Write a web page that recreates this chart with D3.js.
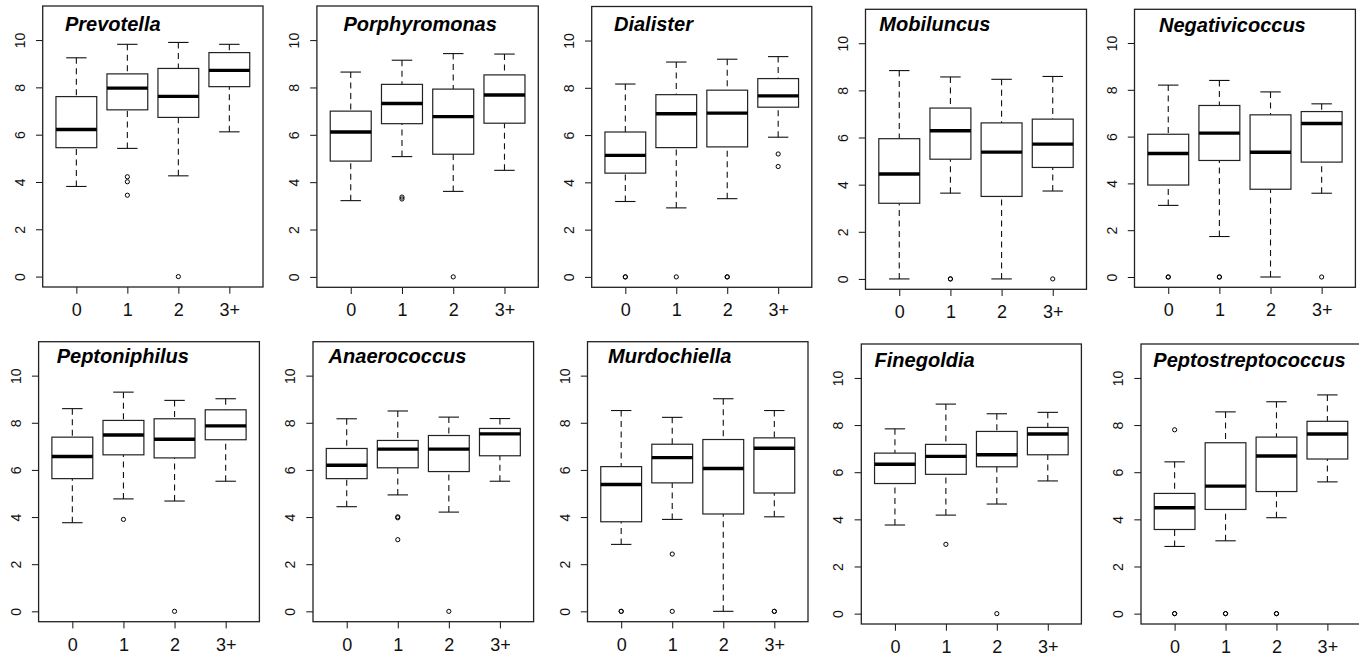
<!DOCTYPE html>
<html>
<head>
<meta charset="utf-8">
<script src="https://cdn.jsdelivr.net/npm/d3@7"></script>
<style>
  body { margin: 0; background: #fff; }
  svg { display: block; font-family: "Liberation Sans", Arial, sans-serif; }
  .title { font-weight: bold; font-style: italic; font-size: 20px; }
</style>
</head>
<body>
<div id="container"><svg></svg></div>
<script>
// genera, one panel each
let genera = ['Prevotella', 'Porphyromonas', 'Dialister', 'Mobiluncus', 'Negativicoccus',
              'Peptoniphilus', 'Anaerococcus', 'Murdochiella', 'Finegoldia', 'Peptostreptococcus'];
let groups = ['0', '1', '2', '3+'];
let yTicks = [0, 2, 4, 6, 8, 10];

// box stats per genus, per group (0, 1, 2, 3+)
let lowerWhisker = [
    [3.81, 5.42, 4.26, 6.12],
    [3.22, 5.08, 3.61, 4.50],
    [3.19, 2.92, 3.31, 5.91],
    [0.00, 3.64, 0.00, 3.73],
    [3.06, 1.73, 0.00, 3.58],
    [3.76, 4.77, 4.68, 5.52],
    [4.44, 4.94, 4.21, 5.52],
    [2.84, 3.90, 0.00, 4.01],
    [3.76, 4.18, 4.65, 5.63],
    [2.85, 3.09, 4.07, 5.59]
];
let q1 = [
    [5.45, 7.05, 6.73, 8.03],
    [4.89, 6.47, 5.18, 6.49],
    [4.39, 5.47, 5.50, 7.18],
    [3.21, 5.08, 3.50, 4.73],
    [3.93, 4.98, 3.75, 4.91],
    [5.63, 6.64, 6.51, 7.28],
    [5.63, 6.09, 5.93, 6.60],
    [3.80, 5.45, 4.13, 5.02],
    [5.52, 5.91, 6.23, 6.74],
    [3.57, 4.42, 5.18, 6.56]
];
let medians = [
    [6.22, 7.97, 7.62, 8.72],
    [6.12, 7.32, 6.77, 7.68],
    [5.14, 6.90, 6.93, 7.66],
    [4.45, 6.29, 5.38, 5.72],
    [5.28, 6.15, 5.33, 6.56],
    [6.57, 7.48, 7.30, 7.87],
    [6.20, 6.88, 6.88, 7.53],
    [5.38, 6.52, 6.06, 6.92],
    [6.34, 6.67, 6.74, 7.62],
    [4.49, 5.41, 6.69, 7.62]
];
let q3 = [
    [7.61, 8.57, 8.80, 9.47],
    [7.00, 8.13, 7.93, 8.53],
    [6.13, 7.71, 7.90, 8.39],
    [5.95, 7.25, 6.62, 6.78],
    [6.10, 7.33, 6.93, 7.07],
    [7.39, 8.10, 8.17, 8.55],
    [6.91, 7.25, 7.46, 7.76],
    [6.14, 7.09, 7.29, 7.36],
    [6.81, 7.18, 7.73, 7.90],
    [5.10, 7.25, 7.49, 8.16]
];
let upperWhisker = [
    [9.25, 9.82, 9.90, 9.82],
    [8.65, 9.15, 9.43, 9.41],
    [8.16, 9.09, 9.21, 9.32],
    [8.84, 8.57, 8.47, 8.59],
    [8.20, 8.40, 7.91, 7.40],
    [8.60, 9.30, 8.95, 9.02],
    [8.17, 8.50, 8.24, 8.18],
    [8.52, 8.23, 9.02, 8.52],
    [7.84, 8.89, 8.48, 8.54],
    [6.44, 8.56, 8.99, 9.28]
];
let outliers = [
    [[], [4.22, 4.01, 3.44], [0], []],
    [[], [3.37, 3.29], [0], []],
    [[0, 0], [0], [0, 0], [5.20, 4.67]],
    [[], [0, 0], [], [0]],
    [[0, 0], [0, 0], [], [0]],
    [[], [3.90], [0], []],
    [[], [4.01, 3.97, 3.04], [0], []],
    [[0, 0], [2.43, 0], [], [0, 0]],
    [[], [2.94], [0], []],
    [[7.80, 0, 0], [0, 0], [0, 0], []]
];

// panel frames [left, top, right, bottom] and title offsets
let frames = [
    [42.7, 6, 263, 287], [316.9, 6, 538.3, 287.3], [591.7, 6.5, 811.8, 287.3],
    [865.5, 9.3, 1086.5, 289.3], [1134.5, 9.3, 1355.4, 287.3],
    [38.6, 341.7, 259.4, 621.7], [313, 341.7, 533.6, 621.7], [587.5, 341.7, 808, 621.7],
    [861.3, 344, 1081.4, 624], [1141, 344, 1361, 624]
];
let titleDx = [22.3, 26.6, 22.3, 13.8, 24.5, 18.1, 15.6, 20.6, 13.3, 12.3];
let titleDy = [25, 25, 24.5, 21.7, 22.3, 21.7, 21.7, 21.7, 22.7, 22.7];

let width = 1359, height = 657;
let svg = d3.select('#container').select('svg')
    .attr('width', width)
    .attr('height', height);

function draw_panel(k) {
    let [L, T, R, B] = frames[k];
    let x = d3.scaleLinear().domain([0.34, 4.66]).range([L, R]);
    let y = d3.scaleLinear().domain([-0.44, 11.44]).range([B, T]);
    let g = svg.append('g');
    let bw = x(1.4) - x(1);   // half box width (boxwex 0.8)
    let sw = x(1.2) - x(1);   // half staple width

    // y axis
    let axis_y = d3.axisLeft(y).tickValues(yTicks).tickSize(6.7).tickSizeOuter(0).tickFormat(d => d);
    let ay = g.append('g')
        .attr('transform', `translate(${L}, 0)`)
        .call(axis_y);
    ay.select('.domain').remove();
    ay.selectAll('line').attr('stroke', '#111');
    ay.selectAll('text')
        .attr('x', 0).attr('dy', '0.36em')
        .attr('transform', 'translate(-23, 0) rotate(-90)')
        .attr('text-anchor', 'middle')
        .attr('fill', '#111')
        .style('font-size', '14px');

    // x axis
    let axis_x = d3.axisBottom(x).tickValues([1, 2, 3, 4]).tickSize(6.7).tickSizeOuter(0)
        .tickFormat((d, i) => groups[i]);
    let ax = g.append('g')
        .attr('transform', `translate(0, ${B})`)
        .call(axis_x);
    ax.select('.domain').remove();
    ax.selectAll('line').attr('stroke', '#111');
    ax.selectAll('text')
        .attr('y', 22.5).attr('dy', '0.36em')
        .attr('fill', '#111')
        .style('font-size', '18px');

    groups.forEach((grp, i) => {
        let cx = x(i + 1);
        // whiskers, drawn from the whisker end toward the box
        [[upperWhisker[k][i], q3[k][i]], [lowerWhisker[k][i], q1[k][i]]].forEach(([a, b]) => {
            g.append('line')
                .attr('x1', cx).attr('x2', cx)
                .attr('y1', y(a)).attr('y2', y(b))
                .attr('stroke', '#111').attr('stroke-width', 1.1)
                .attr('stroke-dasharray', '6,4.5');
            g.append('line')
                .attr('x1', cx - sw).attr('x2', cx + sw)
                .attr('y1', y(a)).attr('y2', y(a))
                .attr('stroke', '#111').attr('stroke-width', 1.1);
        });
        // box
        g.append('rect')
            .attr('x', cx - bw).attr('width', 2 * bw)
            .attr('y', y(q3[k][i])).attr('height', y(q1[k][i]) - y(q3[k][i]))
            .attr('fill', 'white').attr('stroke', '#222').attr('stroke-width', 1.2);
        // median
        g.append('line')
            .attr('x1', cx - bw).attr('x2', cx + bw)
            .attr('y1', y(medians[k][i])).attr('y2', y(medians[k][i]))
            .attr('stroke', 'black').attr('stroke-width', 3.4);
        // outliers
        g.selectAll(null)
            .data(outliers[k][i])
            .enter().append('circle')
            .attr('cx', cx).attr('cy', d => y(d))
            .attr('r', 2.1)
            .attr('fill', 'none').attr('stroke', 'black').attr('stroke-width', 1);
    });

    // frame
    g.append('rect')
        .attr('x', L).attr('y', T)
        .attr('width', R - L).attr('height', B - T)
        .attr('fill', 'none').attr('stroke', '#222').attr('stroke-width', 1.3);

    // title
    g.append('text')
        .attr('class', 'title')
        .attr('x', L + titleDx[k])
        .attr('y', T + titleDy[k])
        .text(genera[k]);
}

genera.forEach((d, k) => draw_panel(k));
</script>
</body>
</html>
